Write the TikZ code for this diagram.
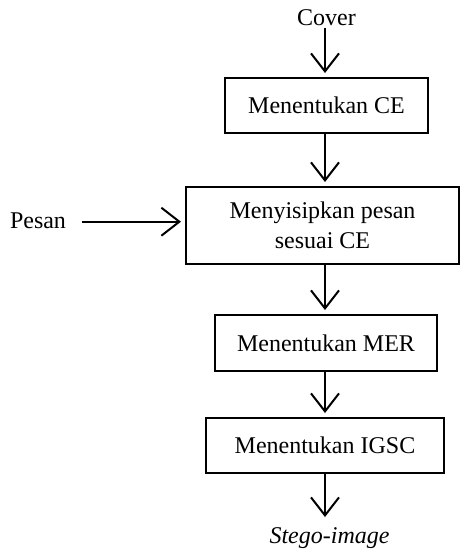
\documentclass[tikz,border=0pt]{standalone}
\usepackage{fontspec}
\setmainfont{Liberation Serif}
\usetikzlibrary{arrows.meta}
\begin{document}
\begin{tikzpicture}[x=0.75pt,y=-0.75pt,
  every node/.style={font=\fontsize{18}{22.5}\selectfont},
  procbox/.style={draw,line width=1.5pt,inner sep=0pt,align=center},
  lbl/.style={inner sep=0pt,anchor=base},
  arr/.style={line width=1.5pt,-{Straight Barb[length=13.5pt,width=21pt,line width=1.5pt]},shorten >=3pt}
]
\useasboundingbox (0,0) rectangle (460,551);
\node[lbl] (cover) at (326.5,25) {Cover};
\coordinate (c0) at (325,28);
\node[procbox,minimum width=152.25pt,minimum height=41.25pt] (b1) at (326.5,105.5) {Menentukan CE};
\node[procbox,minimum width=204.75pt,minimum height=57.75pt] (b2) at (322.5,225.5) {Menyisipkan pesan\\sesuai CE};
\node[procbox,minimum width=166.5pt,minimum height=42pt] (b3) at (326,343) {Menentukan MER};
\node[procbox,minimum width=178.5pt,minimum height=41.25pt] (b4) at (325,445.5) {Menentukan IGSC};
\node[lbl] (pesan) at (38,228) {Pesan};
\coordinate (p0) at (82,221.7);
\node[lbl] (stego) at (329.5,543) {\itshape Stego-image};
\coordinate (s1) at (325,521);

\draw[arr] (c0) -- (b1.north -| c0);
\draw[arr] (b1.south -| c0) -- (b2.north -| c0);
\draw[arr] (b2.south -| c0) -- (b3.north -| c0);
\draw[arr] (b3.south -| c0) -- (b4.north -| c0);
\draw[arr] (b4.south -| c0) -- (s1);
\draw[arr] (p0) -- (b2.west |- p0);
\end{tikzpicture}
\end{document}
